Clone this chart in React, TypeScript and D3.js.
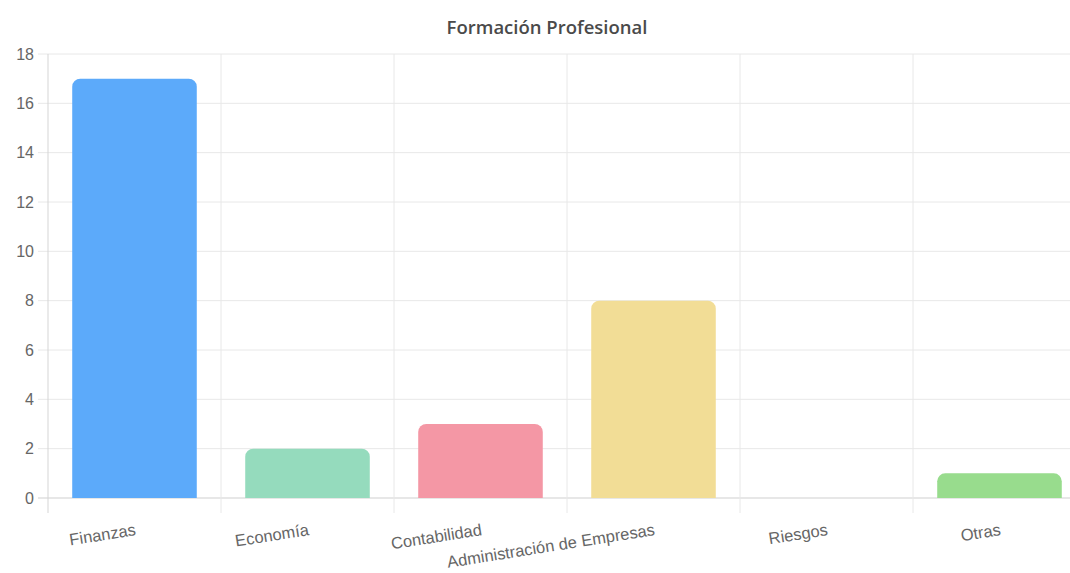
import React from "react";
import * as d3 from "d3";

const categories: string[] = ["Finanzas", "Economía", "Contabilidad", "Administración de Empresas", "Riesgos", "Otras"];
const values: number[] = [17, 2, 3, 8, 0, 1];
const colors: string[] = ["#5caafa", "#95dbbd", "#f497a5", "#f2dd96", "#c9cbcf", "#98dc8d"];
const yTicks: number[] = [0, 2, 4, 6, 8, 10, 12, 14, 16, 18];
const title = "Formación Profesional";

const W = 1070;
const H = 573;
const left = 48;
const right = 1086;
const top = 54;
const bottom = 498;

function topRoundedRect(x: number, y: number, w: number, h: number, r: number): string {
  const rr = Math.min(r, h, w / 2);
  const p = d3.path();
  p.moveTo(x, y + h);
  p.lineTo(x, y + rr);
  p.arcTo(x, y, x + rr, y, rr);
  p.lineTo(x + w - rr, y);
  p.arcTo(x + w, y, x + w, y + rr, rr);
  p.lineTo(x + w, y + h);
  p.closePath();
  return p.toString();
}

export default function App() {
  const x = d3.scaleBand<string>().domain(categories).range([left, right]).paddingInner(0).paddingOuter(0);
  const y = d3.scaleLinear().domain([0, 18]).range([bottom, top]);
  const bw = x.bandwidth();
  const barW = bw * 0.72;
  const gridX = [...categories.map((c) => x(c) as number), right];

  return (
    <svg
      width={W}
      height={H}
      style={{ position: "absolute", left: 0, top: 0, overflow: "hidden", background: "#fff" }}
    >
      <text
        x={547}
        y={34}
        textAnchor="middle"
        fontFamily="'Open Sans', sans-serif"
        fontWeight={600}
        fontSize={18.5}
        fill="#4a4a4a"
      >
        {title}
      </text>
      {/* horizontal grid */}
      {yTicks.map((t) => (
        <line
          key={"h" + t}
          x1={left - 10}
          x2={right}
          y1={y(t)}
          y2={y(t)}
          stroke={t === 0 ? "#cfcfcf" : "#e8e8e8"}
          strokeWidth={1}
        />
      ))}
      {/* vertical grid */}
      {gridX.map((gx, i) => (
        <line
          key={"v" + i}
          x1={gx}
          x2={gx}
          y1={top}
          y2={bottom + 15}
          stroke={i === 0 ? "#d5d5d5" : "#e8e8e8"}
          strokeWidth={1}
        />
      ))}
      {/* bars */}
      {categories.map((c, i) => {
        const v = values[i];
        if (v <= 0) return null;
        const bx = (x(c) as number) + (bw - barW) / 2;
        const by = y(v);
        return <path key={"b" + c} d={topRoundedRect(bx, by, barW, bottom - by, 8)} fill={colors[i]} />;
      })}
      {/* y tick labels */}
      {yTicks.map((t) => (
        <text
          key={"yl" + t}
          x={34}
          y={y(t)}
          dy="0.35em"
          textAnchor="end"
          fontFamily="'Liberation Sans', Arial, sans-serif"
          fontSize={16}
          fill="#666"
        >
          {t}
        </text>
      ))}
      {/* x tick labels */}
      {categories.map((c) => {
        const cx = (x(c) as number) + bw / 2;
        return (
          <text
            key={"xl" + c}
            transform={`translate(${cx + 2},${535}) rotate(-9)`}
            textAnchor="end"
            fontFamily="'Liberation Sans', Arial, sans-serif"
            fontSize={16.5}
            fill="#666"
          >
            {c}
          </text>
        );
      })}
    </svg>
  );
}
